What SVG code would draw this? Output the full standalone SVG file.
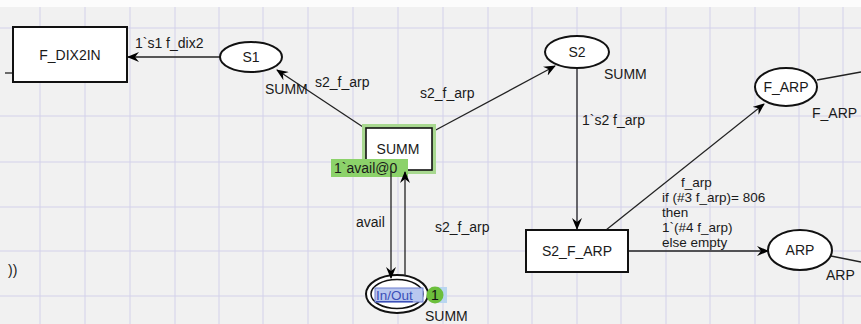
<svg xmlns="http://www.w3.org/2000/svg" width="861" height="324" viewBox="0 0 861 324">
<defs>
<marker id="ah" viewBox="0 0 12 10" refX="11" refY="5" markerWidth="12" markerHeight="10" markerUnits="userSpaceOnUse" orient="auto">
<path d="M0,0 L12,5 L0,10 L4,5 z" fill="#000"/>
</marker>
</defs>
<style>
text{font-family:"Liberation Sans",Arial,sans-serif;font-size:14px;fill:#1a1a1a}
.grid line{stroke:#d3d1ea;stroke-width:1}
.place{fill:#fff;stroke:#111;stroke-width:2}
.trans{fill:#fff;stroke:#111;stroke-width:2}
.arc{stroke:#222;stroke-width:1.3;fill:none}
.arr{marker-end:url(#ah)}
.mid{text-anchor:middle}
.ml{font-size:13.5px}
</style>
<rect x="0" y="0" width="861" height="324" fill="#f1f1f1"/>
<rect x="0" y="0" width="861" height="7" fill="#fcfcfc"/>
<g class="grid">
<line x1="40" y1="7" x2="40" y2="324"/>
<line x1="85" y1="7" x2="85" y2="324"/>
<line x1="130" y1="7" x2="130" y2="324"/>
<line x1="175" y1="7" x2="175" y2="324"/>
<line x1="219" y1="7" x2="219" y2="324"/>
<line x1="263" y1="7" x2="263" y2="324"/>
<line x1="308" y1="7" x2="308" y2="324"/>
<line x1="353" y1="7" x2="353" y2="324"/>
<line x1="398" y1="7" x2="398" y2="324"/>
<line x1="443" y1="7" x2="443" y2="324"/>
<line x1="488" y1="7" x2="488" y2="324"/>
<line x1="532" y1="7" x2="532" y2="324"/>
<line x1="577" y1="7" x2="577" y2="324"/>
<line x1="621" y1="7" x2="621" y2="324"/>
<line x1="666" y1="7" x2="666" y2="324"/>
<line x1="710" y1="7" x2="710" y2="324"/>
<line x1="755" y1="7" x2="755" y2="324"/>
<line x1="799" y1="7" x2="799" y2="324"/>
<line x1="843" y1="7" x2="843" y2="324"/>
<line x1="0" y1="28" x2="861" y2="28"/>
<line x1="0" y1="116" x2="861" y2="116"/>
<line x1="0" y1="162" x2="861" y2="162"/>
<line x1="0" y1="207" x2="861" y2="207"/>
<line x1="0" y1="251" x2="861" y2="251"/>
<line x1="0" y1="296" x2="861" y2="296"/>
</g>

<g id="connectors">
<line class="arc" x1="5" y1="73" x2="13" y2="73"/>
<line class="arc arr" x1="220" y1="57" x2="128" y2="57"/>
<line class="arc arr" x1="366" y1="129" x2="277" y2="70"/>
<line class="arc arr" x1="432" y1="132" x2="555" y2="66"/>
<line class="arc arr" x1="577" y1="68" x2="577" y2="229"/>
<line class="arc arr" x1="606" y1="230" x2="764" y2="104"/>
<line class="arc arr" x1="628" y1="251" x2="768" y2="251"/>
<line class="arc" x1="817" y1="80" x2="861" y2="72"/>
<line class="arc" x1="831" y1="256" x2="861" y2="262"/>
</g>

<g id="F_DIX2IN">
<rect class="trans" x="13" y="27" width="114" height="55"/>
<text class="mid" x="70" y="60">F_DIX2IN</text>
</g>
<g id="S1">
<ellipse class="place" cx="251" cy="57" rx="31" ry="15"/>
<text class="mid" x="251" y="62">S1</text>
<text x="265" y="94">SUMM</text>
</g>
<g id="S2">
<ellipse class="place" cx="577" cy="52" rx="32" ry="16"/>
<text class="mid" x="577" y="57">S2</text>
<text x="604" y="79">SUMM</text>
</g>
<g id="F_ARP">
<ellipse class="place" cx="786" cy="87" rx="31" ry="19"/>
<text class="mid" x="786" y="92">F_ARP</text>
<text x="812" y="118">F_ARP</text>
</g>
<g id="ARP">
<ellipse class="place" cx="800" cy="250" rx="32" ry="20"/>
<text class="mid" x="800" y="255">ARP</text>
<text x="826" y="280">ARP</text>
</g>
<g id="S2_F_ARP">
<rect class="trans" x="526" y="230" width="102" height="42"/>
<text class="mid" x="577" y="256">S2_F_ARP</text>
</g>
<g id="SUMM">
<rect x="364" y="126" width="70" height="46" fill="none" stroke="#a8d890" stroke-width="4"/>
<rect x="366" y="128" width="66" height="42" fill="#fff" stroke="#111" stroke-width="1.6"/>
<text class="mid" x="398" y="154">SUMM</text>
</g>
<g id="InOut">
<ellipse class="place" cx="397" cy="294" rx="31" ry="19"/>
<ellipse cx="397" cy="294" rx="26" ry="14.5" fill="none" stroke="#111" stroke-width="1.5"/>
<rect x="375" y="288" width="48" height="14" fill="#b9c7ef" stroke="#6d7fd0" stroke-width="1"/>
<text x="376" y="300" style="fill:#3b4fb8;text-decoration:underline;font-size:13.5px">In/Out</text>
<rect x="438" y="287" width="9" height="16" fill="#b9d6f0"/>
<circle cx="435" cy="295" r="8.5" fill="#6cbf3c"/>
<text class="mid" x="435" y="300" style="fill:#111">1</text>
<text x="425" y="321">SUMM</text>
</g>

<g id="marking">
<rect x="331" y="159" width="77" height="18" fill="#8cd26a"/>
<text x="334" y="173">1`avail@0</text>
</g>

<g id="connectors2">
<line class="arc arr" x1="391" y1="171" x2="391" y2="278"/>
<line class="arc arr" x1="405" y1="276" x2="405" y2="172"/>
</g>

<g id="labels">
<text x="135" y="48">1`s1 f_dix2</text>
<text x="315" y="87">s2_f_arp</text>
<text x="420" y="98">s2_f_arp</text>
<text x="582" y="125">1`s2 f_arp</text>
<text x="356" y="227">avail</text>
<text x="435" y="232">s2_f_arp</text>
<text class="ml" x="681" y="187">f_arp</text>
<text class="ml" x="662" y="202">if (#3 f_arp)= 806</text>
<text class="ml" x="662" y="217">then</text>
<text class="ml" x="662" y="232">1`(#4 f_arp)</text>
<text class="ml" x="662" y="247">else empty</text>
<text x="8" y="275">))</text>
</g>
</svg>
